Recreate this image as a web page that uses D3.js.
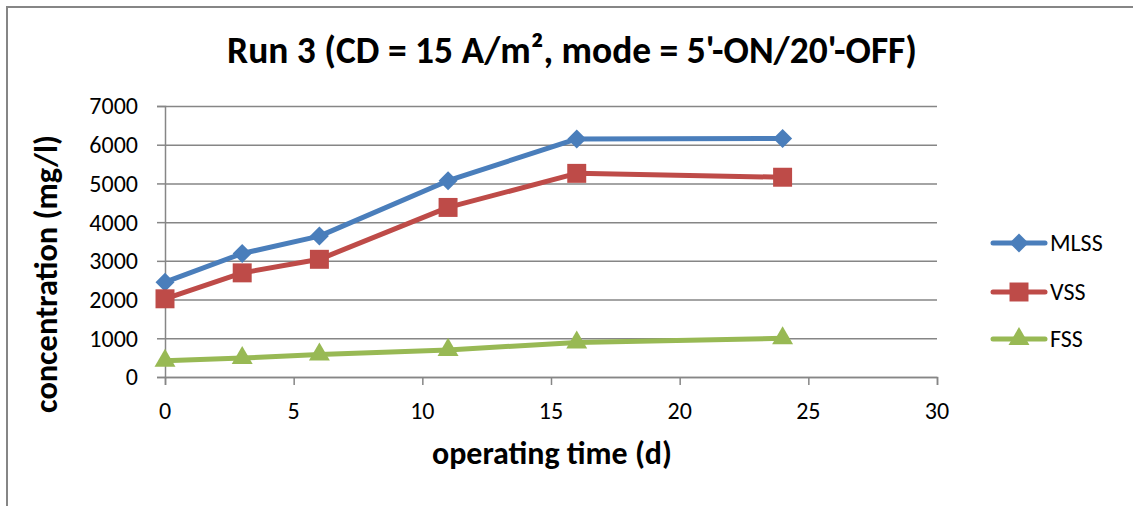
<!DOCTYPE html>
<html>
<head>
<meta charset="utf-8">
<script src="https://cdn.jsdelivr.net/npm/d3@7"></script>
<style>
  html, body { margin: 0; padding: 0; background: #fff; }
  svg { display: block; }
  text { font-family: Carlito, Calibri, Lato, "Open Sans", sans-serif; fill: #000; }
</style>
</head>
<body>
<svg id="chart" width="1133" height="506"></svg>
<script>
// Operating time (days) at each sampling point
const days = [0, 3, 6, 11, 16, 24];
// Suspended solids concentrations (mg/l)
const mlss = [2450, 3190, 3640, 5070, 6150, 6160];
const vss  = [2020, 2690, 3040, 4380, 5260, 5160];
const fss  = [420, 490, 580, 700, 890, 1000];
const seriesNames = ["MLSS", "VSS", "FSS"];
const xTicks = [0, 5, 10, 15, 20, 25, 30];
const yTicks = [0, 1000, 2000, 3000, 4000, 5000, 6000, 7000];

const titleText = "Run 3 (CD = 15 A/m², mode = 5'-ON/20'-OFF)";
const xTitle = "operating time (d)";
const yTitle = "concentration (mg/l)";

const series = [
  { name: seriesNames[0], values: mlss, color: "#4A7EBB", marker: "diamond" },
  { name: seriesNames[1], values: vss,  color: "#BE4B48", marker: "square" },
  { name: seriesNames[2], values: fss,  color: "#98B954", marker: "triangle" }
];

const svg = d3.select("#chart");
const plot = { left: 165, right: 937, top: 106, bottom: 377 };

const x = d3.scaleLinear().domain([0, 30]).range([plot.left, plot.right]);
const y = d3.scaleLinear().domain([0, 7000]).range([plot.bottom, plot.top]);

// Scale a text element's font size so its rendered width equals a target
function fitWidth(sel, target) {
  const node = sel.node();
  const fs = parseFloat(sel.attr("font-size"));
  const w = node.getComputedTextLength();
  if (w > 0) sel.attr("font-size", (fs * target / w).toFixed(2));
  return sel;
}

// Outer chart frame (left and top edges visible)
svg.append("path")
  .attr("d", "M7,506 V7 H1133")
  .attr("fill", "none").attr("stroke", "#868686").attr("stroke-width", 2);

// Horizontal gridlines with y-axis tick marks
const gridColor = "#868686";
svg.append("g")
  .attr("transform", `translate(${plot.left},0)`)
  .call(d3.axisLeft(y).tickValues(yTicks).tickSize(-(plot.right - plot.left)).tickFormat(""))
  .call(g => g.select(".domain").remove())
  .call(g => g.selectAll(".tick line").attr("stroke", gridColor).attr("stroke-width", 1.5));
svg.append("g")
  .attr("transform", `translate(${plot.left},0)`)
  .call(d3.axisLeft(y).tickValues(yTicks).tickSize(8).tickFormat(""))
  .call(g => g.select(".domain").attr("stroke", gridColor).attr("stroke-width", 1.5))
  .call(g => g.selectAll(".tick line").attr("stroke", gridColor).attr("stroke-width", 1.5));

// Y tick labels
svg.append("g").selectAll("text").data(yTicks).join("text")
  .attr("x", 138).attr("y", d => y(d))
  .attr("dy", "0.35em")
  .attr("text-anchor", "end")
  .attr("font-size", 24)
  .text(d => d);

// X axis line with downward ticks
svg.append("g")
  .attr("transform", `translate(0,${plot.bottom})`)
  .call(d3.axisBottom(x).tickValues(xTicks).tickSize(8).tickFormat(""))
  .call(g => g.select(".domain").attr("stroke", gridColor).attr("stroke-width", 1.5))
  .call(g => g.selectAll(".tick line").attr("stroke", gridColor).attr("stroke-width", 1.5));

// X tick labels
svg.append("g").selectAll("text").data(xTicks).join("text")
  .attr("x", d => x(d)).attr("y", 419)
  .attr("text-anchor", "middle")
  .attr("font-size", 24)
  .text(d => d);

// Chart title
const t = svg.append("text")
  .attr("x", 572).attr("y", 63)
  .attr("text-anchor", "middle")
  .attr("font-weight", "bold")
  .attr("font-size", 32)
  .text(titleText);
fitWidth(t, 690);

// Axis titles
const xt = svg.append("text")
  .attr("x", 552).attr("y", 464)
  .attr("text-anchor", "middle")
  .attr("font-weight", "bold")
  .attr("font-size", 30)
  .text(xTitle);
fitWidth(xt, 240);

const yt = svg.append("text")
  .attr("transform", "translate(57,274) rotate(-90)")
  .attr("text-anchor", "middle")
  .attr("font-weight", "bold")
  .attr("font-size", 30)
  .text(yTitle);
fitWidth(yt, 278);

// Marker shapes
const symbolFor = {
  diamond: d3.symbol().type(d3.symbolDiamond2).size(230),
  square: d3.symbol().type(d3.symbolSquare).size(360),
  triangle: d3.symbol().type(d3.symbolTriangle).size(190)
};

const line = d3.line().x(d => x(d[0])).y(d => y(d[1]));

series.forEach(s => {
  const pts = days.map((d, i) => [d, s.values[i]]);
  svg.append("path")
    .datum(pts)
    .attr("fill", "none")
    .attr("stroke", s.color)
    .attr("stroke-width", 5)
    .attr("stroke-linejoin", "round")
    .attr("d", line);
  svg.append("g").selectAll("path").data(pts).join("path")
    .attr("transform", d => `translate(${x(d[0])},${y(d[1])})`)
    .attr("d", symbolFor[s.marker])
    .attr("fill", s.color);
});

// Legend
const legendY = [243, 292, 339];
series.forEach((s, i) => {
  const g = svg.append("g").attr("transform", `translate(0,${legendY[i]})`);
  g.append("line")
    .attr("x1", 993).attr("x2", 1045)
    .attr("stroke", s.color).attr("stroke-width", 5).attr("stroke-linecap", "round");
  g.append("path")
    .attr("transform", "translate(1019,0)")
    .attr("d", symbolFor[s.marker])
    .attr("fill", s.color);
  g.append("text")
    .attr("x", 1050).attr("dy", "0.35em")
    .attr("font-size", 24)
    .text(s.name);
});
</script>
</body>
</html>
